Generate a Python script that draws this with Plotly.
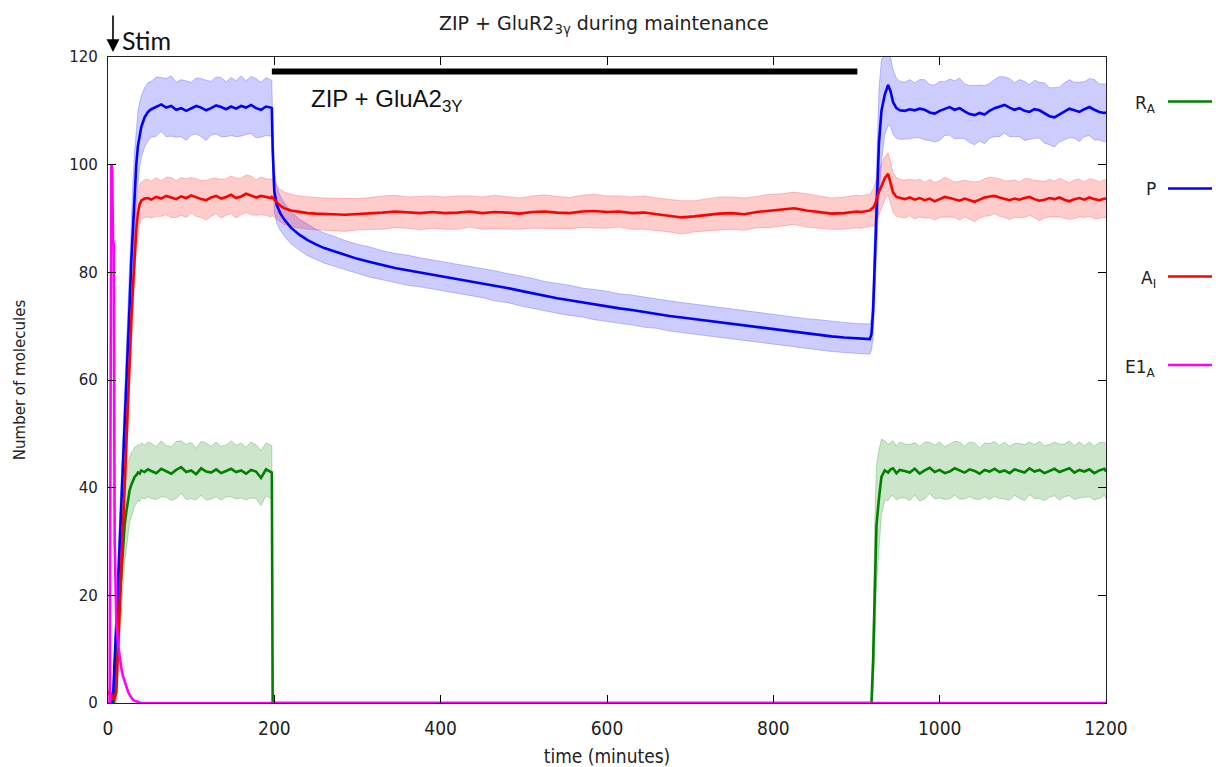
import plotly.graph_objects as go

# ---------------- data ----------------
time_min = [0, 2, 4, 5, 6, 7, 8, 10, 12, 14, 16, 18, 20, 22, 24, 26, 28, 30, 32, 34, 36, 38, 40, 44, 48,
            52, 58, 64, 70, 76, 82, 88, 94, 100, 106, 112, 118, 124, 130, 136, 142, 148, 154, 160, 166, 172, 178, 184, 190, 196,
            197, 198, 200, 203, 207, 212, 220, 230, 240, 250, 260,
            270, 285, 300, 315, 330, 345, 360, 375, 390, 405, 420, 435, 450, 465, 480, 495, 510, 525, 540, 555,
            570, 585, 600, 615, 630, 645, 660, 675, 690, 705, 720, 735, 750, 765, 780, 795, 810, 825, 840, 855,
            870, 885, 900,
            906, 912, 916, 918, 920, 922, 924, 927, 930, 934, 938, 941, 944, 948, 952,
            958, 964, 970, 976, 982, 988, 994, 1000, 1006, 1012, 1018, 1024, 1030, 1036, 1042, 1048,
            1054, 1060, 1066, 1072, 1078, 1084, 1090, 1096, 1102, 1108, 1114, 1120, 1126, 1132, 1138, 1144,
            1150, 1156, 1162, 1168, 1174, 1180, 1186, 1192, 1198, 1200]

R_A = [0, 0, 0, 0, 0, 0, 1, 6, 13, 19, 24, 30, 33, 35.5, 38, 39.5, 40.5, 41.3, 42, 42.3, 42.8, 42.6, 43.2, 42.9, 43.4,
       43.1, 42.7, 43.5, 43.0, 42.6, 43.3, 43.8, 42.9, 43.2, 42.5, 43.6, 43.0, 42.8, 43.4, 42.7, 43.1, 43.5, 42.9, 43.2, 42.6, 43.3, 43.0, 41.8, 43.4, 42.9,
       42.8, 0, 0, 0, 0, 0, 0, 0, 0, 0, 0,
       0, 0, 0, 0, 0, 0, 0, 0, 0, 0, 0, 0, 0, 0, 0, 0, 0, 0, 0, 0, 0, 0,
       0, 0, 0, 0, 0, 0, 0, 0, 0, 0, 0, 0, 0, 0, 0, 0, 0, 0, 0, 0, 0,
       0, 0, 0, 0, 8, 22, 33, 38, 42, 43.2, 42.8, 43.4, 43.6, 42.7, 43.3,
       43.1, 42.8, 43.5, 42.6, 43.2, 43.7, 42.9, 43.3, 42.7, 43.0, 43.6, 43.2, 42.8, 43.4, 43.1, 42.6,
       43.3, 43.0, 43.5, 42.9, 43.2, 42.7, 43.4, 43.1, 42.8, 43.6, 43.0, 43.3, 42.7, 43.1, 43.5, 42.9,
       43.2, 43.6, 42.8, 43.3, 43.0, 43.4, 42.7, 43.2, 43.5, 43.0]
R_A_sd = [0, 0, 0, 0, 0, 0, 1, 3, 5, 6, 7, 7, 7, 7, 6.5, 6, 6, 5.5, 5.5, 5.3, 5.2, 5.2, 5.1, 5, 5.1,
          5.1, 4.9, 5.2, 4.8, 5.0, 5.3, 4.9, 5.1, 5.2, 4.8, 5.0, 5.3, 4.9, 5.1, 5.0, 4.8, 5.2, 5.0, 5.1, 4.9, 5.2, 5.0, 5.1, 4.9, 5.0,
          5.0, 0, 0, 0, 0, 0, 0, 0, 0, 0, 0,
          0, 0, 0, 0, 0, 0, 0, 0, 0, 0, 0, 0, 0, 0, 0, 0, 0, 0, 0, 0, 0, 0,
          0, 0, 0, 0, 0, 0, 0, 0, 0, 0, 0, 0, 0, 0, 0, 0, 0, 0, 0, 0, 0,
          0, 0, 0, 0, 6, 12, 11, 9, 7, 5.5, 5.2, 5.0, 5.1, 5.0, 5.2,
          5.0, 5.2, 4.9, 5.1, 5.3, 4.8, 5.0, 5.2, 4.9, 5.1, 5.0, 5.3, 4.9, 5.1, 5.2, 4.8,
          5.0, 5.2, 5.1, 4.9, 5.3, 5.0, 4.8, 5.1, 5.2, 4.9, 5.0, 5.3, 5.1, 4.9, 5.0, 5.2,
          4.9, 5.1, 5.0, 5.2, 4.8, 5.1, 5.0, 5.2, 4.9, 5.1]

P = [0, 0, 0, 0, 1, 4, 8, 15, 22, 29, 36, 43, 51, 58, 66, 74, 82, 89, 95, 100, 103.5, 105.5, 107, 108.8, 109.8,
     110.3, 110.8, 111.2, 110.6, 110.9, 110.2, 110.5, 110.0, 110.4, 110.9, 110.6, 110.1, 110.5, 111.0, 110.7, 110.3, 110.8, 110.4, 110.9, 110.6, 111.1, 110.5, 110.2, 110.8, 110.6,
     110.5, 103, 95, 92.5, 91, 89.8, 88.3, 87.0, 86.0, 85.2, 84.5,
     84.0, 83.2, 82.5, 81.9, 81.3, 80.8, 80.4, 80.0, 79.6, 79.2, 78.8, 78.4, 78.0, 77.5, 77.1, 76.6, 76.1, 75.6, 75.2, 74.8,
     74.4, 74.0, 73.7, 73.3, 73.0, 72.6, 72.3, 71.9, 71.6, 71.3, 71.0, 70.7, 70.4, 70.1, 69.8, 69.5, 69.2, 68.9, 68.6, 68.4,
     68.1, 67.9, 67.7,
     67.7, 67.6, 67.6, 68.5, 73, 82, 92, 104, 110, 113, 114.8, 113.6, 111.6, 110.5, 110.1,
     110.0, 110.3, 110.1, 110.4, 110.2, 109.7, 109.5, 110.0, 110.4, 110.7, 110.2, 110.5, 109.9, 109.4, 109.2, 109.6,
     109.3, 110.0, 110.5, 110.8, 111.1, 110.6, 110.2, 110.5, 110.0, 109.8, 110.3, 110.1, 109.6, 109.0, 108.8, 109.3,
     109.9, 110.4, 110.1, 109.8, 110.3, 110.7, 110.2, 109.8, 109.6, 109.7]
P_sd = [0, 0, 0, 0, 0.5, 1, 1.5, 3, 5, 6, 7, 8, 9, 9, 9, 9, 8.5, 8, 7.5, 7, 6.5, 6, 5.8, 5.5, 5.4,
        5.2, 5.5, 5.0, 5.4, 5.6, 5.1, 5.3, 5.5, 4.9, 5.2, 5.4, 5.6, 5.0, 5.3, 5.5, 5.1, 5.4, 5.2, 5.6, 5.0, 5.3, 5.5, 5.1, 5.4, 5.2,
        5.2, 4.5, 3.8, 3.4, 3.2, 3.1, 3.0, 2.9, 2.9, 2.8, 2.8,
        2.8, 2.7, 2.7, 2.8, 2.7, 2.7, 2.8, 2.7, 2.7, 2.8, 2.7, 2.8, 2.7, 2.8, 2.7, 2.8, 2.8, 2.7, 2.8, 2.8,
        2.7, 2.8, 2.8, 2.7, 2.8, 2.8, 2.7, 2.8, 2.8, 2.8, 2.7, 2.8, 2.8, 2.8, 2.8, 2.8, 2.8, 2.8, 2.8, 2.8,
        2.8, 2.8, 2.8,
        2.8, 2.8, 2.8, 3, 5, 7, 9, 10, 9.5, 7.5, 7.5, 6.5, 6, 5.6, 5.4,
        5.3, 5.5, 5.1, 5.4, 5.6, 5.2, 5.3, 5.5, 5.0, 5.2, 5.4, 5.6, 5.1, 5.3, 5.5, 5.2,
        5.4, 5.1, 5.3, 5.6, 5.2, 5.4, 5.0, 5.3, 5.5, 5.1, 5.4, 5.2, 5.6, 5.3, 5.5, 5.1,
        5.3, 5.4, 5.2, 5.5, 5.1, 5.3, 5.6, 5.2, 5.4, 5.3]

A_I = [1.5, 2.2, 1.5, 1, 0.8, 0.8, 1, 2, 10, 18, 26, 33, 40, 48, 56, 64, 71, 77, 83, 88, 91, 92.6, 93.3, 93.7, 93.8,
       93.5, 94.0, 93.7, 94.2, 93.9, 93.6, 94.1, 93.8, 94.3, 93.9, 93.6, 93.4, 93.9, 94.2, 93.7, 94.0, 94.4, 93.8, 94.1, 94.6, 94.3, 93.9, 94.2, 94.0, 93.8,
       94.0, 93.8, 93.5, 93.0, 92.4, 91.9, 91.5, 91.2, 91.0, 90.9, 90.8,
       90.8, 90.7, 90.8, 90.9, 91.1, 91.3, 91.1, 91.0, 91.2, 91.0, 91.1, 91.3, 91.0, 91.2, 91.1, 90.9, 91.2, 91.3, 91.1, 91.0,
       91.3, 91.4, 91.2, 91.3, 91.0, 91.1, 90.8, 90.5, 90.2, 90.4, 90.7, 90.9, 91.0, 90.8, 91.2, 91.4, 91.6, 91.9, 91.5, 91.2,
       90.9, 91.0, 91.3,
       91.2, 91.3, 91.5, 91.8, 92.0, 92.5, 93.5, 95.0, 96.0, 97.5, 98.3, 96.5, 94.8, 94.0, 93.8,
       93.6, 93.9, 93.5, 93.8, 93.4, 93.7, 93.2, 93.6, 94.0, 93.8, 93.5, 93.3, 93.7, 93.4, 93.1, 93.5,
       93.9, 94.1, 94.2, 93.9, 93.6, 93.4, 93.7, 93.5, 93.8, 94.0, 93.6, 93.3, 93.5, 93.8, 93.6, 93.9,
       93.5, 93.2, 93.6, 93.8, 93.5, 93.9, 93.6, 93.4, 93.7, 93.6]
A_I_sd = [0.8, 1, 0.8, 0.6, 0.5, 0.5, 0.8, 2, 4, 5, 6, 6, 6, 6, 5.5, 5, 4.5, 4.2, 4, 3.8, 3.7, 3.6, 3.5, 3.5, 3.5,
          3.4, 3.6, 3.3, 3.5, 3.7, 3.4, 3.5, 3.6, 3.3, 3.5, 3.4, 3.7, 3.5, 3.3, 3.6, 3.4, 3.5, 3.7, 3.4, 3.5, 3.6, 3.3, 3.5, 3.4, 3.5,
          3.4, 3.3, 3.2, 3.1, 3.0, 3.0, 3.0, 3.0, 3.0, 3.0, 3.0,
          3.0, 3.1, 2.9, 3.0, 3.1, 3.0, 2.9, 3.1, 3.0, 3.0, 3.1, 2.9, 3.0, 3.1, 3.0, 2.9, 3.0, 3.1, 3.0, 2.9,
          3.0, 3.1, 3.0, 2.9, 3.0, 3.1, 3.0, 3.0, 3.1, 2.9, 3.0, 3.1, 3.0, 3.0, 2.9, 3.1, 3.0, 3.0, 3.1, 3.0,
          2.9, 3.0, 3.0,
          3.0, 3.0, 3.0, 3.2, 3.5, 3.8, 4.0, 4.0, 4.0, 4.0, 3.9, 3.8, 3.7, 3.6, 3.5,
          3.5, 3.4, 3.6, 3.5, 3.3, 3.6, 3.5, 3.4, 3.7, 3.5, 3.3, 3.6, 3.4, 3.5, 3.7, 3.4,
          3.5, 3.6, 3.3, 3.5, 3.4, 3.6, 3.5, 3.3, 3.6, 3.4, 3.5, 3.7, 3.4, 3.5, 3.3, 3.6,
          3.5, 3.4, 3.6, 3.5, 3.3, 3.5, 3.6, 3.4, 3.5, 3.5]

E1_A = [0, 0, 100, 99.5, 86, 85, 30, 15, 11, 8.5, 6.5, 5, 4, 3, 2.2, 1.5, 1, 0.6, 0.4, 0.25, 0.15, 0.1, 0.05, 0, 0,
        0, 0, 0, 0, 0, 0, 0, 0, 0, 0, 0, 0, 0, 0, 0, 0, 0, 0, 0, 0, 0, 0, 0, 0, 0,
        0, 0, 0, 0, 0, 0, 0, 0, 0, 0, 0,
        0, 0, 0, 0, 0, 0, 0, 0, 0, 0, 0, 0, 0, 0, 0, 0, 0, 0, 0, 0, 0, 0,
        0, 0, 0, 0, 0, 0, 0, 0, 0, 0, 0, 0, 0, 0, 0, 0, 0, 0, 0, 0, 0,
        0, 0, 0, 0, 0, 0, 0, 0, 0, 0, 0, 0, 0, 0, 0,
        0, 0, 0, 0, 0, 0, 0, 0, 0, 0, 0, 0, 0, 0, 0, 0,
        0, 0, 0, 0, 0, 0, 0, 0, 0, 0, 0, 0, 0, 0, 0, 0,
        0, 0, 0, 0, 0, 0, 0, 0, 0, 0]

zip_bar_t = [197, 901]
zip_bar_y = [117.3, 117.3]
stim_t = 6

x_ticks = [0, 200, 400, 600, 800, 1000, 1200]
y_ticks = [0, 20, 40, 60, 80, 100, 120]

series = [
    ("R<sub>A</sub>", R_A, R_A_sd, "#008000", "rgba(0,128,0,0.2)", "rgba(0,128,0,0.25)"),
    ("P", P, P_sd, "#0000ff", "rgba(0,0,255,0.2)", "rgba(0,0,255,0.22)"),
    ("A<sub>I</sub>", A_I, A_I_sd, "#ff0000", "rgba(255,0,0,0.2)", "rgba(255,0,0,0.22)"),
]

fig = go.Figure()

# bands
for name, m, sd, col, fillc, edgec in series:
    lower = [a - b for a, b in zip(m, sd)]
    upper = [a + b for a, b in zip(m, sd)]
    fig.add_trace(go.Scatter(x=time_min, y=lower, mode="lines",
                             line=dict(color=edgec, width=1), showlegend=False, hoverinfo="skip"))
    fig.add_trace(go.Scatter(x=time_min, y=upper, mode="lines", fill="tonexty", fillcolor=fillc,
                             line=dict(color=edgec, width=1), showlegend=False, hoverinfo="skip"))

# mean lines
for name, m, sd, col, fillc, edgec in series:
    fig.add_trace(go.Scatter(x=time_min, y=m, mode="lines", line=dict(color=col, width=2.6),
                             name=name, showlegend=False))
fig.add_trace(go.Scatter(x=time_min, y=E1_A, mode="lines", line=dict(color="#ff00ff", width=2.6),
                         name="E1<sub>A</sub>", showlegend=False))

# ZIP application bar
fig.add_trace(go.Scatter(x=zip_bar_t, y=zip_bar_y, mode="lines", line=dict(color="black", width=6),
                         showlegend=False, hoverinfo="skip"))

# geometry (page body adds an 8px offset; compensate so the picture lands on target pixels)
OFF = 8
L, R, T, B = 108 - OFF, 1106 - OFF, 57 - OFF, 703 - OFF
W, H = 1220 - OFF, 767 - OFF
def px_x(px):
    return (px - OFF - L) / (R - L)
def px_y(py):
    return (B - (py - OFF)) / (B - T)

annotations = []
shapes = []

# custom legend on the right
legend_items = [("R<sub>A</sub>", "#008000", 101.5),
                ("P", "#0000ff", 188.5),
                ("A<sub>I</sub>", "#ff0000", 276.5),
                ("E1<sub>A</sub>", "#ff00ff", 365)]
for lab, col, py in legend_items:
    shapes.append(dict(type="line", xref="paper", yref="paper", x0=px_x(1168), x1=px_x(1222),
                       y0=px_y(py), y1=px_y(py), line=dict(color=col, width=2.6)))
    has_sub = "<sub>" in lab
    annotations.append(dict(text=lab, xref="paper", yref="paper", x=px_x(1158), y=px_y(py + (3 if has_sub else 0)),
                            xanchor="right", yanchor="middle", showarrow=False,
                            font=dict(family="DejaVu Sans", size=17, color="#222")))

# title
annotations.append(dict(text="ZIP + GluR2<sub>3γ</sub> during maintenance", xref="paper", yref="paper",
                        x=px_x(604), y=px_y(24), xanchor="center", yanchor="middle", showarrow=False,
                        font=dict(family="DejaVu Sans", size=19, color="#222")))
# ZIP label
annotations.append(dict(text="ZIP + GluA2<sub>3Y</sub>", xref="paper", yref="paper",
                        x=px_x(309), y=px_y(100), xanchor="left", yanchor="middle", showarrow=False,
                        font=dict(family="Liberation Sans", size=24, color="#111")))
# Stim arrow and text
annotations.append(dict(text="", x=stim_t, xref="x", y=px_y(52), yref="paper",
                        showarrow=True, ax=0, ay=-38, arrowhead=2, arrowsize=1.6, arrowwidth=1.6,
                        arrowcolor="black"))
annotations.append(dict(text="Stim", xref="paper", yref="paper", x=px_x(120), y=px_y(40),
                        xanchor="left", yanchor="middle", showarrow=False,
                        font=dict(family="Lato", size=25, color="#111")))

fig.update_layout(
    width=W, height=H,
    margin=dict(l=L, r=W - R, t=T, b=H - B, autoexpand=False),
    paper_bgcolor="white", plot_bgcolor="white",
    showlegend=False,
    annotations=annotations, shapes=shapes,
    xaxis=dict(range=[0, 1200], tickvals=x_ticks, ticktext=[str(v) for v in x_ticks],
               ticks="inside", ticklen=8, tickcolor="black", showline=True, linecolor="#222", linewidth=1.2,
               mirror="allticks", showgrid=False, zeroline=False, ticklabelstandoff=8,
               tickfont=dict(family="DejaVu Sans Condensed, Liberation Sans Narrow, DejaVu Sans", size=19, color="#222"),
               title=dict(text="time (minutes)", standoff=12,
                          font=dict(family="DejaVu Sans Condensed, Liberation Sans Narrow, DejaVu Sans", size=19, color="#222"))),
    yaxis=dict(range=[0, 120], tickvals=y_ticks, ticktext=[str(v) for v in y_ticks],
               ticks="inside", ticklen=8, tickcolor="black", showline=True, linecolor="#222", linewidth=1.2,
               mirror="allticks", showgrid=False, zeroline=False, ticklabelstandoff=6,
               tickfont=dict(family="DejaVu Sans", size=15, color="#222"),
               title=dict(text="Number of molecules", standoff=40,
                          font=dict(family="DejaVu Sans", size=15, color="#222"))),
)

fig.write_html("out.html")
